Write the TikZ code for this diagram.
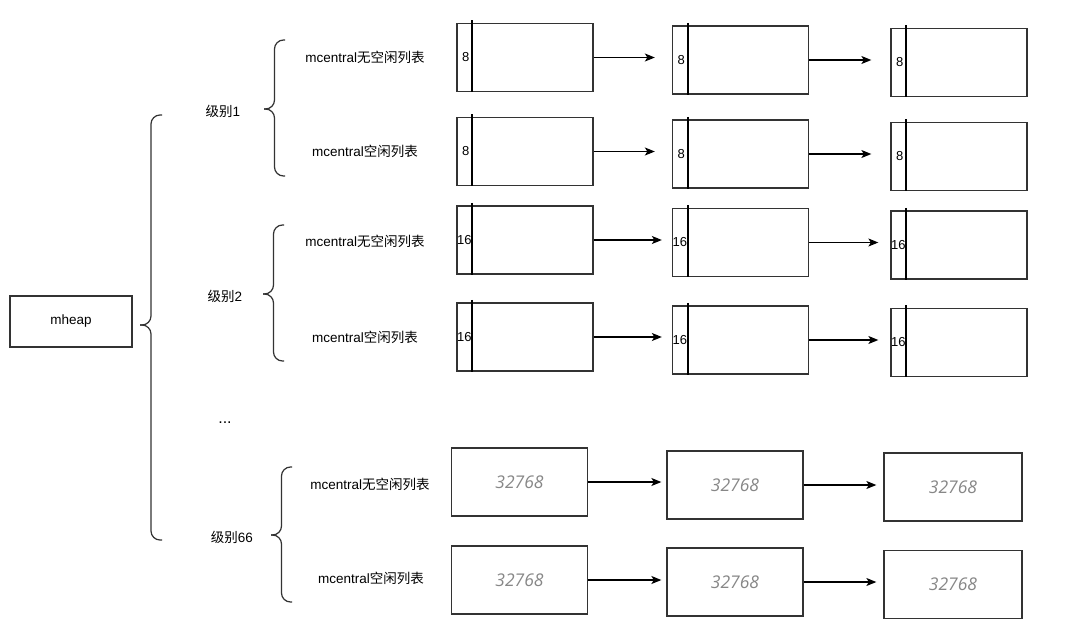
\documentclass[tikz,border=0pt]{standalone}
\usepackage{fontspec}
\setmainfont{Liberation Sans}
\newfontfamily\cjk{Noto Sans CJK SC}
\newfontfamily\numit{Open Sans}[UprightFont=* Italic]
\usetikzlibrary{arrows.meta}
\definecolor{linec}{RGB}{51,51,51}
\definecolor{numgray}{RGB}{135,135,135}
\tikzset{
  cell/.style={draw=linec, line width=1.3pt, minimum width=136pt, minimum height=68pt, inner sep=0pt},
  heapbox/.style={draw=linec, line width=1.2pt, minimum width=122pt, minimum height=51pt, inner sep=0pt, font=\fontsize{13.5}{16}\selectfont},
  lbl/.style={inner sep=0pt, font=\fontsize{13.5}{16}\selectfont},
  sizelbl/.style={inner sep=0pt, font=\fontsize{13}{15}\selectfont, anchor=west},
  bignum/.style={text=numgray, font=\numit\fontsize{17.5}{20}\selectfont},
  arr/.style={-{Stealth[length=10pt,width=8pt,inset=2.5pt]}, line width=1.2pt, black},
  bracestyle/.style={draw=linec, line width=1.2pt, rounded corners=9pt},
  divider/.style={line width=1.3pt, black}
}
\newcommand\drawbrace[5]{% tip x, tip y, top y, bottom y, total width
  \draw[bracestyle] (#1+#5,#3) -- (#1+#5/2,#3) -- (#1+#5/2,#2) -- (#1,#2);
  \draw[bracestyle] (#1+#5,#4) -- (#1+#5/2,#4) -- (#1+#5/2,#2) -- (#1,#2);
}
\begin{document}
\begin{tikzpicture}[x=1pt,y=-1pt]
\useasboundingbox (0,0) rectangle (1080,635);
\fill[white] (0,0) rectangle (1080,635);

% mheap
\node[heapbox] (mheap) at (71,321.5) {mheap};
\drawbrace{140}{325}{115}{540}{22}

% level labels
\node[lbl] (lv1) at (223,111) {{\cjk 级别}1};
\node[lbl] (lv2) at (225,296) {{\cjk 级别}2};
\node[lbl, font=\fontsize{16}{18}\selectfont] (dots) at (225,422.5) {...};
\node[lbl] (lv66) at (232,537) {{\cjk 级别}66};

\drawbrace{264}{109}{40}{176}{21}
\drawbrace{263}{294}{225}{361}{21}
\drawbrace{271}{535}{467}{602}{21}

% list labels
\node[lbl] (t1) at (365,57) {mcentral{\cjk 无空闲列表}};
\node[lbl] (t2) at (365,151) {mcentral{\cjk 空闲列表}};
\node[lbl] (t3) at (365,241) {mcentral{\cjk 无空闲列表}};
\node[lbl] (t4) at (365,337) {mcentral{\cjk 空闲列表}};
\node[lbl] (t5) at (370,484) {mcentral{\cjk 无空闲列表}};
\node[lbl] (t6) at (371,578) {mcentral{\cjk 空闲列表}};

% row 1
\node[cell] (r1a) at (525,57.5) {};
\draw[divider] ([xshift=15.5pt,yshift=2.5pt]r1a.north west) -- ([xshift=15.5pt]r1a.south west);
\node[sizelbl] at ([xshift=5.5pt]r1a.west) {8};
\node[cell] (r1b) at (740.5,60) {};
\draw[divider] ([xshift=16pt,yshift=2.5pt]r1b.north west) -- ([xshift=16pt]r1b.south west);
\node[sizelbl] at ([xshift=5.5pt]r1b.west) {8};
\node[cell] (r1c) at (959,62.5) {};
\draw[divider] ([xshift=15.5pt,yshift=2.5pt]r1c.north west) -- ([xshift=15.5pt]r1c.south west);
\node[sizelbl] at ([xshift=5.5pt]r1c.west) {8};
\draw[arr, shorten >=17pt] (r1a.east) -- (r1a.east -| r1b.west);
\draw[arr, shorten >=19pt] (r1b.east) -- (r1b.east -| r1c.west);

% row 2
\node[cell] (r2a) at (525,151.5) {};
\draw[divider] ([xshift=15.5pt,yshift=2.5pt]r2a.north west) -- ([xshift=15.5pt]r2a.south west);
\node[sizelbl] at ([xshift=5.5pt]r2a.west) {8};
\node[cell] (r2b) at (740.5,154) {};
\draw[divider] ([xshift=16pt,yshift=2.5pt]r2b.north west) -- ([xshift=16pt]r2b.south west);
\node[sizelbl] at ([xshift=5.5pt]r2b.west) {8};
\node[cell] (r2c) at (959,156.5) {};
\draw[divider] ([xshift=15.5pt,yshift=2.5pt]r2c.north west) -- ([xshift=15.5pt]r2c.south west);
\node[sizelbl] at ([xshift=5.5pt]r2c.west) {8};
\draw[arr, shorten >=17pt] (r2a.east) -- (r2a.east -| r2b.west);
\draw[arr, shorten >=19pt] (r2b.east) -- (r2b.east -| r2c.west);

% row 3
\node[cell] (r3a) at (525,240) {};
\draw[divider] ([xshift=15.5pt,yshift=2.5pt]r3a.north west) -- ([xshift=15.5pt]r3a.south west);
\node[sizelbl] at ([xshift=0.5pt]r3a.west) {16};
\node[cell] (r3b) at (740.5,242.5) {};
\draw[divider] ([xshift=16pt,yshift=2.5pt]r3b.north west) -- ([xshift=16pt]r3b.south west);
\node[sizelbl] at ([xshift=0.5pt]r3b.west) {16};
\node[cell] (r3c) at (959,245) {};
\draw[divider] ([xshift=15.5pt,yshift=2.5pt]r3c.north west) -- ([xshift=15.5pt]r3c.south west);
\node[sizelbl] at ([xshift=0.5pt]r3c.west) {16};
\draw[arr, shorten >=10pt] (r3a.east) -- (r3a.east -| r3b.west);
\draw[arr, shorten >=12pt] (r3b.east) -- (r3b.east -| r3c.west);

% row 4
\node[cell] (r4a) at (525,337) {};
\draw[divider] ([xshift=15.5pt,yshift=2.5pt]r4a.north west) -- ([xshift=15.5pt]r4a.south west);
\node[sizelbl] at ([xshift=0.5pt]r4a.west) {16};
\node[cell] (r4b) at (740.5,340) {};
\draw[divider] ([xshift=16pt,yshift=2.5pt]r4b.north west) -- ([xshift=16pt]r4b.south west);
\node[sizelbl] at ([xshift=0.5pt]r4b.west) {16};
\node[cell] (r4c) at (959,342.5) {};
\draw[divider] ([xshift=15.5pt,yshift=2.5pt]r4c.north west) -- ([xshift=15.5pt]r4c.south west);
\node[sizelbl] at ([xshift=0.5pt]r4c.west) {16};
\draw[arr, shorten >=10pt] (r4a.east) -- (r4a.east -| r4b.west);
\draw[arr, shorten >=12pt] (r4b.east) -- (r4b.east -| r4c.west);

% row 5
\node[cell, bignum] (r5a) at (519.5,482) {32768};
\node[cell, bignum] (r5b) at (735,485) {32768};
\node[cell, bignum, minimum width=138pt] (r5c) at (953,487) {32768};
\draw[arr, shorten >=5pt] (r5a.east) -- (r5a.east -| r5b.west);
\draw[arr, shorten >=7pt] (r5b.east) -- (r5b.east -| r5c.west);

% row 6
\node[cell, bignum] (r6a) at (519.5,580) {32768};
\node[cell, bignum] (r6b) at (735,582) {32768};
\node[cell, bignum, minimum width=138pt] (r6c) at (953,584.5) {32768};
\draw[arr, shorten >=5pt] (r6a.east) -- (r6a.east -| r6b.west);
\draw[arr, shorten >=7pt] (r6b.east) -- (r6b.east -| r6c.west);
\end{tikzpicture}
\end{document}
